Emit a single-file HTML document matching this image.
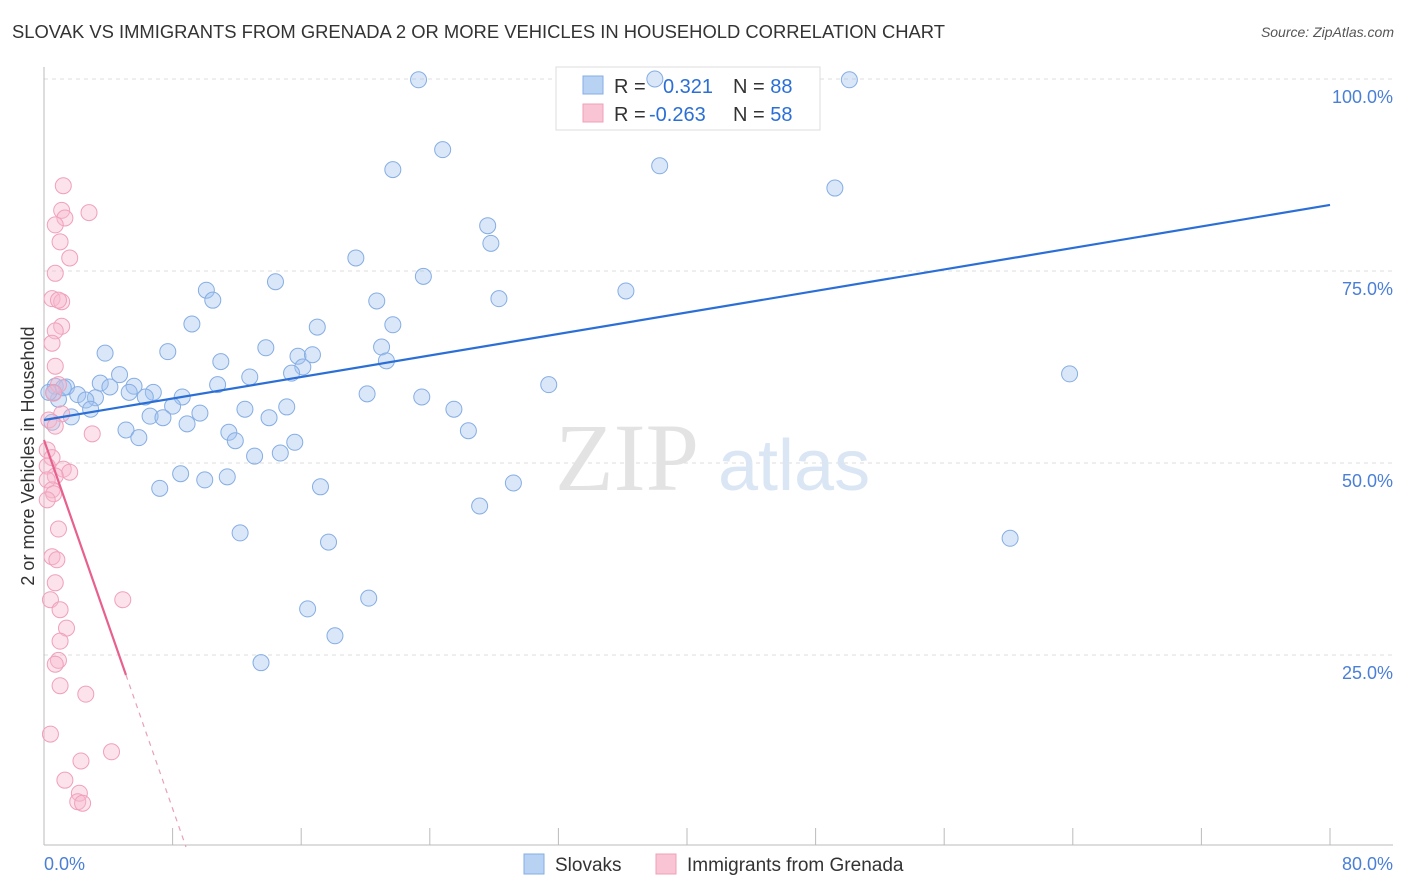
<!DOCTYPE html>
<html><head><meta charset="utf-8">
<style>
body{margin:0;background:#fff;font-family:"Liberation Sans",sans-serif;}
#wrap{position:relative;width:1406px;height:892px;overflow:hidden;}
.title{position:absolute;left:12px;top:21px;font-size:18.4px;color:#333;}
.source{position:absolute;right:12px;top:24px;font-size:14px;color:#555;font-style:italic;}
</style></head><body>
<div id="wrap">
<div class="title">SLOVAK VS IMMIGRANTS FROM GRENADA 2 OR MORE VEHICLES IN HOUSEHOLD CORRELATION CHART</div>
<div class="source">Source: ZipAtlas.com</div>
<svg id="chart" width="1406" height="892" style="position:absolute;left:0;top:0"></svg>
</div>
<script>
const xTicks=[0,10,20,30,40,50,60,70,80];
const yTicks=[25,50,75,100];
const yTickLabels=["25.0%","50.0%","75.0%","100.0%"];
const xLabels=["0.0%","80.0%"];
const slovakX=[23.3,38.0,50.1,24.8,21.7,38.3,49.2,27.6,27.8,19.4,23.6,14.4,10.1,10.5,28.3,36.2,20.7,9.2,17.0,21.7,63.8,3.8,7.7,13.8,21.0,15.8,16.7,11.0,16.1,21.3,12.8,15.4,4.7,3.5,0.7,1.4,4.1,5.6,10.8,31.4,6.8,5.3,2.1,3.2,8.6,6.3,20.1,23.5,0.9,2.6,0.6,8.0,2.9,12.5,15.1,25.5,6.6,9.7,1.7,7.4,14.0,5.1,5.9,11.5,8.9,26.4,11.9,15.6,14.7,13.1,8.5,7.2,10.0,11.4,17.2,29.2,27.1,12.2,60.1,17.7,20.2,16.4,18.1,13.5,0.5,0.3,1.2];
const slovakY=[99.9,100,99.9,90.8,88.2,88.7,85.8,80.9,78.6,76.7,74.3,73.6,72.5,71.2,71.4,72.4,71.1,68.1,67.7,68.0,61.6,64.3,64.5,65.0,65.1,63.9,64.1,63.2,62.5,63.3,61.2,61.7,61.5,60.4,60.0,59.9,59.9,60.0,60.2,60.2,59.2,59.2,58.9,58.5,58.6,58.6,59.0,58.6,58.3,58.2,59.2,57.4,57.0,57.0,57.3,57.0,56.1,56.5,56.0,55.9,55.9,54.3,53.3,54.0,55.1,54.2,52.9,52.7,51.3,50.9,48.6,46.7,47.8,48.2,46.9,47.4,44.4,40.9,40.2,39.7,32.4,31.0,27.5,24.0,55.3,59.2,59.8];
const grenadaX=[1.2,1.1,2.8,1.3,0.7,1.0,1.6,0.7,0.5,1.1,0.9,1.1,0.7,0.5,0.7,0.9,0.6,1.1,0.3,0.7,3.0,0.2,0.5,1.2,1.6,0.2,0.7,0.2,0.5,0.6,0.2,0.9,0.5,0.8,0.7,0.4,4.9,1.0,1.4,1.0,0.9,0.7,1.0,2.6,0.4,4.2,2.3,1.3,2.2,2.1,2.4];
const grenadaY=[86.1,82.9,82.6,81.9,81.0,78.8,76.7,74.7,71.4,71.0,71.2,67.8,67.2,65.6,62.6,60.2,59.1,56.4,55.6,54.8,53.8,51.7,50.7,49.2,48.8,49.6,48.3,47.8,46.5,46.0,45.2,41.4,37.8,37.4,34.4,32.2,32.2,30.9,28.5,26.8,24.3,23.8,21.0,19.9,14.7,12.4,11.2,8.7,7.0,5.9,5.7];
const slovakTrend=[55.6,0.35];
const grenadaTrend=[53.0,-6.0];
const grenadaSolidMax=5.1;

const NS="http://www.w3.org/2000/svg";
const svg=document.getElementById('chart');
const X0=44,X1=1330,Y0=847,Y100=79;
const xs=v=>X0+(X1-X0)*v/80;
const ys=v=>Y0-(Y0-Y100)*v/100;
function mk(t,a,p){const e=document.createElementNS(NS,t);for(const k in a)e.setAttribute(k,a[k]);(p||svg).appendChild(e);return e;}

yTicks.forEach((t,i)=>{
 const g=mk('line',{x1:X0,x2:1393,y1:ys(t),y2:ys(t),stroke:'#ddd','stroke-dasharray':'4,4'});
 
 
 const l=mk('text',{x:1393,y:ys(t)+24,'text-anchor':'end','font-size':18,fill:'#4a7fd6'});
 l.textContent=yTickLabels[i];
 
 
});
let ax=mk('line',{x1:X0,x2:1393,y1:845,y2:845,stroke:'#bbb'});


let ay=mk('line',{x1:X0,x2:X0,y1:67,y2:845,stroke:'#bbb'});


for(let i=0;i<=10;i++){
 const tk=mk('line',{x1:xs(i*8),x2:xs(i*8),y1:828,y2:845,stroke:'#bbb'});
 
 
}
const xl0=mk('text',{x:44,y:870,'font-size':18,fill:'#4a7fd6'});xl0.textContent=xLabels[0];


const xl1=mk('text',{x:1393,y:870,'font-size':18,fill:'#4a7fd6','text-anchor':'end'});xl1.textContent=xLabels[1];


const yt=mk('text',{x:34,y:456,'font-size':18,fill:'#333','text-anchor':'middle',transform:'rotate(-90 34 456)'});
yt.textContent='2 or more Vehicles in Household';


const wm=mk('text',{x:555,y:490,'font-size':96,fill:'#e3e3e3','font-family':'Liberation Serif,serif'});wm.textContent='ZIP';


const wm2=mk('text',{x:718,y:490,'font-size':72,fill:'#dbe6f5'});wm2.textContent='atlas';



// legend box (drawn before points so points overlap it)
const lg=mk('g',{});


mk('rect',{x:556,y:67,width:264,height:63,fill:'#fff',stroke:'#ddd'},lg);
mk('rect',{x:583,y:76,width:20,height:18,fill:'#b8d2f4',stroke:'#86ade3'},lg);
mk('rect',{x:583,y:104,width:20,height:18,fill:'#f9c4d4',stroke:'#f0a0ba'},lg);
const rows=[['0.321','88',93,663],['-0.263','58',121,649]];
rows.forEach(r=>{
 const t=mk('text',{x:614,y:r[2],'font-size':20,fill:'#333'},lg);
 t.textContent='R =';
 const v=mk('text',{x:r[3],y:r[2],'font-size':20,fill:'#2b6fd6'},lg);
 v.textContent=r[0];
 const n=mk('text',{x:733,y:r[2],'font-size':20,fill:'#333'},lg);
 n.innerHTML='N = <tspan fill="#2b6fd6">'+r[1]+'</tspan>';
});

slovakX.forEach((x,i)=>{
 const c=mk('circle',{cx:xs(x),cy:ys(slovakY[i]),r:8,fill:'rgba(160,195,240,0.4)',stroke:'#86ade3','stroke-width':1});
 
 
});
grenadaX.forEach((x,i)=>{
 const c=mk('circle',{cx:xs(x),cy:ys(grenadaY[i]),r:8,fill:'rgba(248,185,205,0.4)',stroke:'#f0a0ba','stroke-width':1});
 
 
});
const bt=mk('line',{x1:xs(0),y1:ys(slovakTrend[0]),x2:xs(80),y2:ys(slovakTrend[0]+slovakTrend[1]*80),stroke:'#2b6fd6','stroke-width':2.2});


const gEnd=-grenadaTrend[0]/grenadaTrend[1];
const pt=mk('line',{x1:xs(0),y1:ys(grenadaTrend[0]),x2:xs(grenadaSolidMax),y2:ys(grenadaTrend[0]+grenadaTrend[1]*grenadaSolidMax),stroke:'#e8608e','stroke-width':2.2});


const pd=mk('line',{x1:xs(grenadaSolidMax),y1:ys(grenadaTrend[0]+grenadaTrend[1]*grenadaSolidMax),x2:xs(gEnd),y2:ys(0),stroke:'#e8a0b8','stroke-width':1.2,'stroke-dasharray':'5,5'});



const bl=mk('g',{});


mk('rect',{x:524,y:854,width:20,height:20,fill:'#b8d2f4',stroke:'#86ade3'},bl);
const s1=mk('text',{x:555,y:871,'font-size':19,fill:'#333'},bl);s1.textContent='Slovaks';
mk('rect',{x:656,y:854,width:20,height:20,fill:'#f9c4d4',stroke:'#f0a0ba'},bl);
const s2=mk('text',{x:687,y:871,'font-size':19,fill:'#333'},bl);s2.textContent='Immigrants from Grenada';
</script>
</body></html>
